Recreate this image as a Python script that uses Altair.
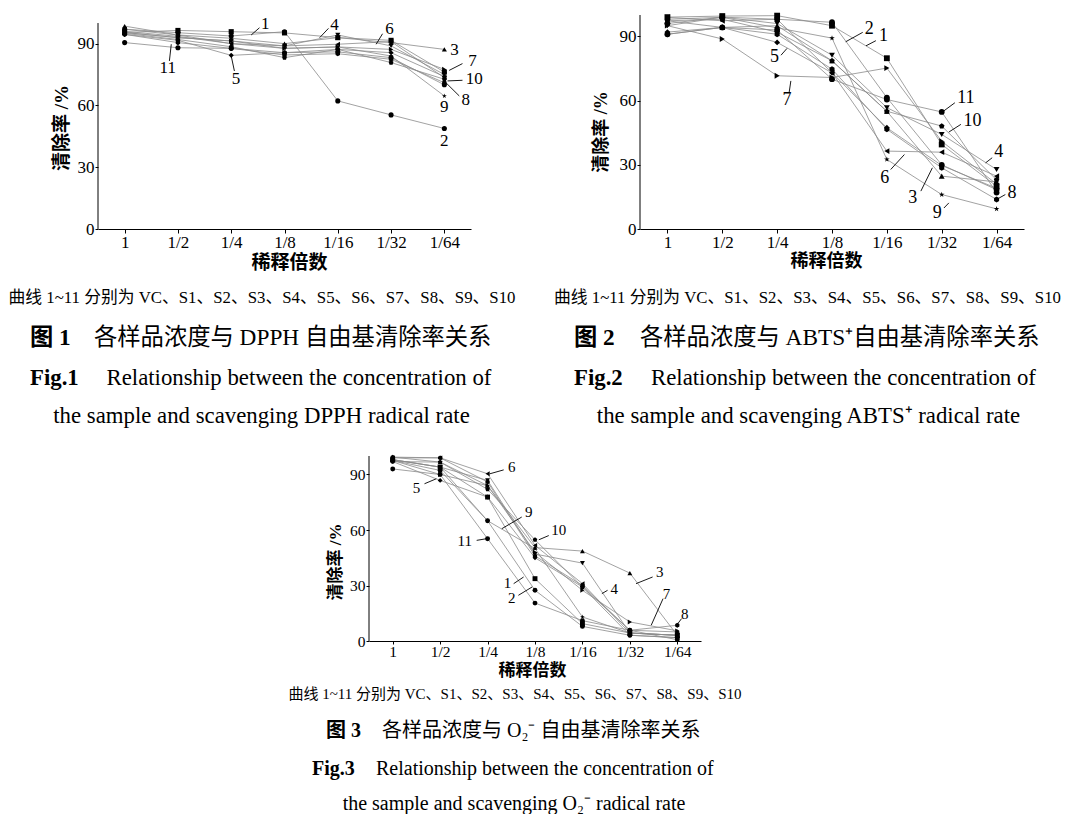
import json
import altair as alt
import pandas as pd

# ---------------- data ----------------
tick_labels = ["1", "1/2", "1/4", "1/8", "1/16", "1/32", "1/64"]
series_ids = [str(i) for i in range(1, 12)]

# Fig.1 DPPH scavenging rate (%), curves 1..11
dpph_values = [
    [95.4, 96.4, 95.8, 95.2, 92.9, 91.6, 76.2],
    [97.0, 95.3, 93.7, 95.8, 62.2, 55.4, 48.8],
    [98.5, 94.2, 92.6, 90.0, 92.9, 90.5, 87.2],
    [95.4, 92.9, 91.3, 88.9, 94.2, 88.9, 75.0],
    [94.5, 91.6, 84.3, 85.6, 87.2, 85.6, 74.0],
    [97.0, 94.2, 90.0, 88.9, 89.7, 91.0, 73.5],
    [95.4, 92.9, 91.3, 87.7, 88.4, 87.2, 77.5],
    [94.5, 90.5, 87.7, 84.5, 85.1, 82.4, 71.0],
    [96.0, 93.5, 90.0, 87.7, 88.4, 84.0, 64.6],
    [95.0, 92.0, 88.5, 83.2, 87.2, 80.8, 72.7],
    [90.5, 88.0, 87.7, 85.6, 86.0, 83.2, 70.0],
]
# Fig.2 ABTS+ scavenging rate (%)
abts_values = [
    [99.0, 99.5, 99.7, 95.0, 79.8, 39.5, 20.0],
    [96.0, 99.0, 98.0, 96.6, 61.4, 30.0, 18.4],
    [97.3, 94.2, 95.0, 78.6, 55.0, 24.7, 22.0],
    [95.0, 99.0, 96.0, 81.2, 56.7, 44.2, 27.8],
    [92.0, 94.2, 87.2, 73.0, 47.3, 29.7, 19.0],
    [98.9, 97.3, 98.0, 73.0, 36.4, 35.9, 24.7],
    [95.0, 88.8, 71.6, 70.8, 75.2, 41.0, 21.0],
    [91.0, 94.2, 91.0, 74.7, 46.6, 28.6, 13.8],
    [98.0, 98.9, 94.0, 89.2, 32.5, 16.1, 9.4],
    [97.3, 98.0, 92.0, 78.6, 55.0, 48.1, 23.0],
    [91.0, 94.2, 93.0, 70.0, 60.5, 54.7, 17.0],
]
# Fig.3 O2- scavenging rate (%)
o2_values = [
    [98.0, 94.0, 77.8, 33.7, 9.4, 4.3, 3.1],
    [97.6, 92.2, 65.0, 27.4, 7.9, 3.1, 1.8],
    [99.4, 96.7, 84.0, 50.5, 48.6, 36.7, 3.1],
    [98.0, 94.0, 86.8, 47.0, 42.1, 4.3, 3.1],
    [97.0, 86.8, 77.8, 45.0, 29.2, 5.8, 4.9],
    [99.0, 99.0, 90.4, 51.7, 31.0, 4.3, 3.1],
    [97.6, 90.0, 84.0, 48.0, 27.4, 10.3, 5.5],
    [99.4, 99.0, 86.0, 46.0, 30.0, 5.8, 8.5],
    [98.0, 94.0, 65.0, 50.0, 13.0, 4.3, 3.1],
    [97.0, 96.7, 82.0, 54.7, 29.2, 3.1, 1.8],
    [93.0, 90.0, 55.3, 20.5, 11.0, 5.8, 0.7],
]

# curve number labels (x in dilution index units, y in %)
dpph_ann_text = ["1", "4", "6", "3", "7", "10", "8", "9", "2", "11", "5"]
dpph_ann_x = [2.64, 3.94, 4.97, 6.19, 6.53, 6.56, 6.40, 6.00, 6.00, 0.81, 2.09]
dpph_ann_y = [99.4, 99.0, 96.9, 86.8, 81.6, 72.7, 62.5, 59.0, 42.5, 78.0, 72.7]
dpph_lead_x1 = [2.53, 3.825, 4.84, 6.34, 6.34, 6.28, 0.84, 2.06]
dpph_lead_y1 = [97.7, 97.4, 94.8, 80.3, 72.2, 64.6, 81.6, 76.7]
dpph_lead_x2 = [2.375, 3.66, 4.72, 6.09, 6.06, 6.03, 0.875, 2.0]
dpph_lead_y2 = [94.2, 92.9, 89.7, 77.0, 71.9, 71.0, 89.7, 84.0]

abts_ann_text = ["2", "1", "5", "7", "11", "10", "4", "6", "3", "9", "8"]
abts_ann_x = [3.68, 3.94, 1.95, 2.18, 5.44, 5.56, 6.04, 3.96, 4.47, 4.92, 6.28]
abts_ann_y = [93.4, 90.3, 80.2, 60.3, 61.4, 50.5, 36.1, 23.9, 14.5, 7.5, 16.9]
abts_lead_x1 = [3.56, 3.80, 2.07, 2.22, 5.24, 5.35, 5.92, 4.07, 4.62, 5.04, 6.16]
abts_lead_y1 = [91.9, 88.0, 81.2, 64.0, 59.0, 48.9, 33.3, 27.8, 17.7, 9.8, 16.1]
abts_lead_x2 = [3.25, 3.62, 2.18, 2.25, 5.04, 5.13, 5.80, 4.32, 4.83, 5.13, 6.00]
abts_lead_y2 = [87.5, 85.6, 84.4, 69.2, 55.2, 45.3, 30.9, 34.8, 28.6, 12.2, 13.8]

o2_ann_text = ["6", "5", "9", "10", "11", "1", "2", "4", "3", "7", "8"]
o2_ann_x = [2.51, 0.50, 2.87, 3.50, 1.52, 2.42, 2.51, 4.67, 5.63, 5.77, 6.16]
o2_ann_y = [94.3, 82.8, 69.7, 59.8, 54.0, 31.2, 23.2, 28.3, 37.3, 25.6, 14.8]
o2_lead_x1 = [2.34, 0.67, 2.72, 3.29, 1.77, 2.55, 2.65, 4.53, 5.48, 5.70, 6.09]
o2_lead_y1 = [92.5, 85.0, 67.0, 57.0, 54.4, 31.0, 24.7, 27.4, 34.6, 22.9, 12.1]
o2_lead_x2 = [2.05, 0.92, 2.30, 3.08, 1.98, 2.76, 2.94, 4.41, 5.13, 5.45, 6.00]
o2_lead_y2 = [90.4, 87.7, 60.7, 54.7, 55.3, 34.6, 29.2, 25.6, 31.0, 8.5, 9.0]

note_text = "曲线 1~11 分别为 VC、S1、S2、S3、S4、S5、S6、S7、S8、S9、S10"
fig_cn_tags = ["图 1", "图 2", "图 3"]
fig_cn_titles = ["各样品浓度与 DPPH 自由基清除率关系",
                 "各样品浓度与 ABTS⁺自由基清除率关系",
                 "各样品浓度与 O₂⁻ 自由基清除率关系"]
fig_en_tags = ["Fig.1", "Fig.2", "Fig.3"]
fig_en_line1 = "Relationship between the concentration of"
fig_en_line2 = ["the sample and scavenging DPPH radical rate",
                "the sample and scavenging ABTS⁺ radical rate",
                "the sample and scavenging O₂⁻ radical rate"]
x_title = "稀释倍数"
y_title = "清除率 /%"

# ---------------- styles ----------------
SERIF = "Liberation Serif"
CJK = "Liberation Serif, Noto Sans CJK SC"
HEX = "M0,-1L0.866,-0.5L0.866,0.5L0,1L-0.866,0.5L-0.866,-0.5Z"
STAR = ("M0,-1L0.2245,-0.309L0.951,-0.309L0.363,0.118L0.588,0.809L0,0.382"
        "L-0.588,0.809L-0.363,0.118L-0.951,-0.309L-0.2245,-0.309Z")
PENT = "M0,-1L0.951,-0.309L0.588,0.809L-0.588,0.809L-0.951,-0.309Z"
shape_range = ["square", "circle", "triangle-up", "triangle-down", "diamond",
               "triangle-left", "triangle-right", HEX, STAR, PENT, "circle"]
label_expr = json.dumps(tick_labels) + "[datum.value]"


def long_df(values):
    rows = []
    for sid, vals in zip(series_ids, values):
        for i, v in enumerate(vals):
            rows.append({"s": sid, "x": i, "y": v})
    return pd.DataFrame(rows)


def caption(text, x, y, size, weight="normal", align="center", font=CJK):
    return alt.Chart(pd.DataFrame({"t": [text]})).mark_text(
        align=align, baseline="middle", font=font, fontSize=size,
        fontWeight=weight, color="black"
    ).encode(x=alt.value(x), y=alt.value(y), text="t:N")


def panel(idx, values, ann_text, ann_x, ann_y, lx1, ly1, lx2, ly2,
          width, height, ymax, geo):
    xs = alt.Scale(domain=[-0.5, 6.5], nice=False)
    ys = alt.Scale(domain=[0, ymax], nice=False)
    xaxis = alt.Axis(values=list(range(7)), labelExpr=label_expr, title=x_title,
                     grid=False, domainColor="black", domainWidth=1,
                     tickColor="black", tickSize=geo["xtick"], tickWidth=1,
                     labelFont=SERIF, labelFontSize=geo["lab"], labelColor="black",
                     labelPadding=geo["xpad"], labelFlush=False, labelOverlap=False,
                     titleFont=CJK, titleFontSize=geo["tit"], titleFontWeight="bold",
                     titleColor="black", titleX=geo["xtx"], titleY=geo["xty"],
                     titleBaseline="middle", titleAlign="center")
    yaxis = alt.Axis(values=[0, 30, 60, 90], title=y_title, grid=False, domain=False,
                     tickColor="black", tickSize=3, tickWidth=1,
                     labelFont=SERIF, labelFontSize=geo["lab"], labelColor="black",
                     labelPadding=1,
                     titleFont=CJK, titleFontSize=geo["tit"], titleFontWeight="bold",
                     titleColor="black", titleX=geo["ytx"], titleY=geo["yty"],
                     titleBaseline="middle", titleAlign="center")
    X = alt.X("x:Q", scale=xs, axis=xaxis)
    Y = alt.Y("y:Q", scale=ys, axis=yaxis)
    df = long_df(values)
    lines = alt.Chart(df).mark_line(color="#8a8a8a", strokeWidth=0.8).encode(
        x=X, y=Y, detail="s:N")
    pts = alt.Chart(df).mark_point(filled=True, color="black", opacity=1,
                                   size=geo["msize"], strokeWidth=0).encode(
        x=X, y=Y,
        shape=alt.Shape("s:N", scale=alt.Scale(domain=series_ids, range=shape_range),
                        legend=None))
    ldf = pd.DataFrame({"x": lx1, "y": ly1, "x2": lx2, "y2": ly2})
    leads = alt.Chart(ldf).mark_rule(color="black", strokeWidth=0.9).encode(
        x=X, y=Y, x2="x2:Q", y2="y2:Q")
    adf = pd.DataFrame({"x": ann_x, "y": ann_y, "t": ann_text})
    anns = alt.Chart(adf).mark_text(font=SERIF, fontSize=geo["ann"], color="black",
                                    baseline="middle", align="center").encode(
        x=X, y=Y, text="t:N")
    yline = alt.Chart(pd.DataFrame({"a": [0]})).mark_rule(color="black", strokeWidth=1).encode(
        x=alt.value(0), y=alt.datum(0, scale=ys), y2=alt.datum(100))
    caps = [
        caption(note_text, geo["c1x"], geo["c1y"], geo["c1s"]),
        caption(fig_cn_tags[idx], geo["tagx"], geo["c2y"], geo["c2s"], "bold", "left"),
        caption(fig_cn_titles[idx], geo["c2x"], geo["c2y"], geo["c2s"], "normal", "left"),
        caption(fig_en_tags[idx], geo["etagx"], geo["c3y"], geo["c3s"], "bold", "left", SERIF),
        caption(fig_en_line1, geo["c3x"], geo["c3y"], geo["c3s"], "normal", "left", SERIF),
        caption(fig_en_line2[idx], geo["c4x"], geo["c4y"], geo["c3s"], "normal", "center", SERIF),
    ]
    return alt.layer(lines, pts, leads, anns, yline, *caps).properties(
        width=width, height=height)


g1 = dict(lab=17, tit=19, ann=17, msize=26, xtick=4, xpad=1, xtx=191, xty=33.7,
          ytx=-37, yty=112.6,
          c1x=164, c1y=282.6, c1s=16.8, tagx=-68, c2x=-4, c2y=323, c2s=23.3,
          etagx=-68, c3x=8.5, c3y=362.6, c3s=22.8, c4x=163.5, c4y=400.6)
g2 = dict(lab=17, tit=18, ann=18, msize=34, xtick=4, xpad=1, xtx=186, xty=32,
          ytx=-39, yty=116.6,
          c1x=167.5, c1y=282.6, c1s=16.8, tagx=-66, c2x=0, c2y=323, c2s=23.3,
          etagx=-66, c3x=11, c3y=362.6, c3s=22.8, c4x=168.5, c4y=400.6)
g3 = dict(lab=15.5, tit=17, ann=15, msize=24, xtick=3, xpad=0, xtx=163, xty=29,
          ytx=-34, yty=105.5,
          c1x=146, c1y=237.5, c1s=15, tagx=-43, c2x=13, c2y=274.5, c2s=20,
          etagx=-57, c3x=7, c3y=312.5, c3s=20, c4x=145, c4y=347.5)

p1 = panel(0, dpph_values, dpph_ann_text, dpph_ann_x, dpph_ann_y,
           dpph_lead_x1, dpph_lead_y1, dpph_lead_x2, dpph_lead_y2, 373, 214, 103.9, g1)
p2 = panel(1, abts_values, abts_ann_text, abts_ann_x, abts_ann_y,
           abts_lead_x1, abts_lead_y1, abts_lead_x2, abts_lead_y2, 384, 214, 100, g2)
p3 = panel(2, o2_values, o2_ann_text, o2_ann_x, o2_ann_y,
           o2_lead_x1, o2_lead_y1, o2_lead_x2, o2_lead_y2, 332, 185, 100, g3)

spacer = alt.Chart(pd.DataFrame({"a": [0]})).mark_point(opacity=0).encode(
    x=alt.value(0), y=alt.value(0)).properties(width=271, height=10)

row1 = alt.hconcat(p1, p2, spacing=169, bounds="flush")
row2 = alt.hconcat(spacer, p3, spacing=0, bounds="flush")
# nested concat rows count as zero height in a flush layout, so the
# vertical spacing is the full offset from row 1 to row 2
chart = alt.vconcat(row1, row2, spacing=441, bounds="flush").properties(
    padding={"left": 0, "top": 4, "right": 0, "bottom": 0},
    background="white",
).configure_view(stroke=None)

chart.save("out.html", embed_options={"renderer": "svg", "actions": False})
